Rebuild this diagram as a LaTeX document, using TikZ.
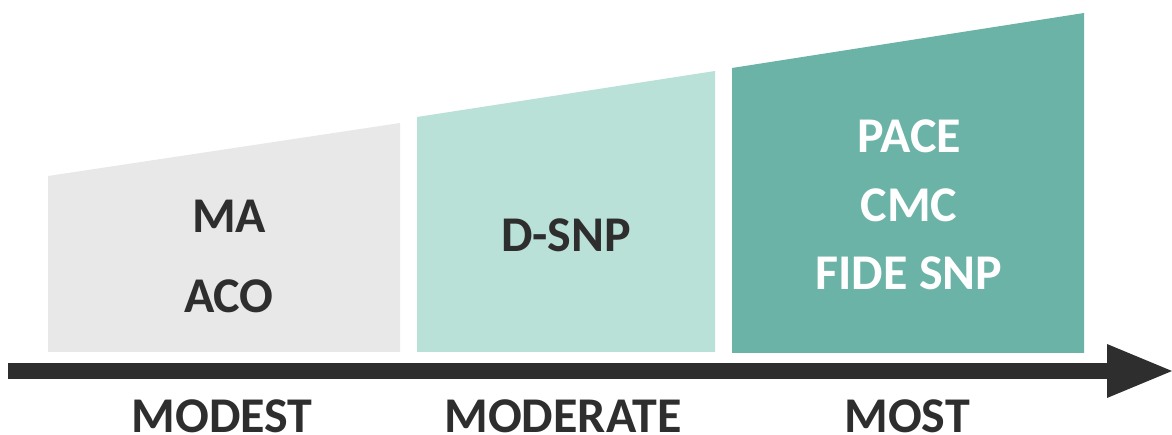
\documentclass[tikz,border=0pt]{standalone}
\usepackage{fontspec}
\setmainfont{Carlito}
\usetikzlibrary{calc}
\definecolor{cgray}{HTML}{E8E8E8}
\definecolor{clight}{HTML}{B9E1D8}
\definecolor{cteal}{HTML}{6BB3A6}
\definecolor{cdark}{HTML}{2E2E2E}
\tikzset{
  lbl/.style={anchor=base, inner sep=0pt, font=\fontsize{50}{60}\selectfont\bfseries},
  darklbl/.style={lbl, text=cdark},
  whitelbl/.style={lbl, text=white},
}
\begin{document}
\begin{tikzpicture}[x=1pt,y=-1pt]
\useasboundingbox (0,0) rectangle (1172,435);
% stepped blocks
\fill[cgray]  (48,352) -- (48,176) -- (400,123) -- (400,352) -- cycle;
\fill[clight] (417,352) -- (417,117) -- (715,71) -- (715,352) -- cycle;
\fill[cteal]  (732,353) -- (732,68) -- (1084,13) -- (1084,353) -- cycle;
% axis arrow
\coordinate (astart) at (8,371);
\coordinate (abase) at (1107,371);
\coordinate (atip) at (1172,371);
\fill[cdark] ($(astart)+(0,-8)$) rectangle ($(abase)+(1,8)$);
\fill[cdark] ($(abase)+(0,-27)$) -- (atip) -- ($(abase)+(0,27)$) -- cycle;
% labels in blocks
\node[darklbl] (ma) at (229,233) {MA};
\node[darklbl] (aco) at (229,313) {ACO};
\node[darklbl] (dsnp) at (566,252) {D-SNP};
\node[whitelbl] (pace) at (909,153) {PACE};
\node[whitelbl] (cmc) at (909,222) {CMC};
\node[whitelbl] (fide) at (909,290) {FIDE SNP};
% axis labels
\node[darklbl] (modest) at (222,432) {MODEST};
\node[darklbl] (moderate) at (563,432) {MODERATE};
\node[darklbl] (most) at (907,432) {MOST};
\end{tikzpicture}
\end{document}
